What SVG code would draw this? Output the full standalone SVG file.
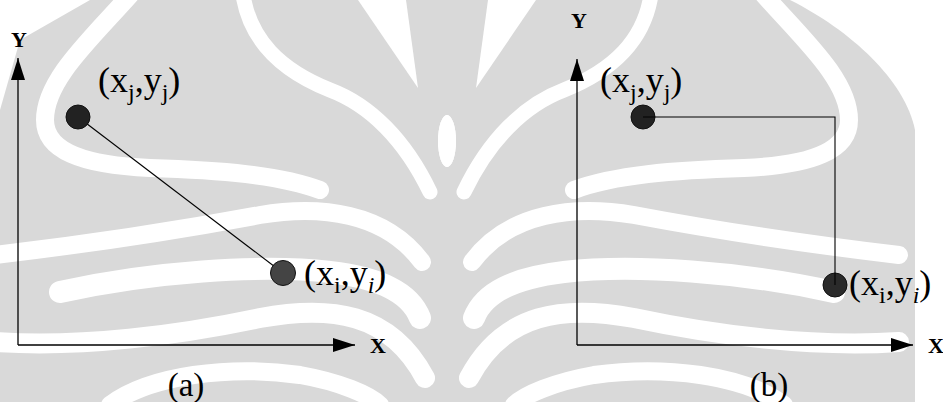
<svg xmlns="http://www.w3.org/2000/svg" width="943" height="402" viewBox="0 0 943 402">
<style>
.wm{fill:none;stroke:#ffffff;stroke-linecap:round}
.axis{stroke:#000;stroke-width:1.3;fill:none}
.link{stroke:#000;stroke-width:1.1;fill:none}
.lbl{font-family:"Liberation Serif","Times New Roman",serif;font-size:36px;fill:#000}
.ax{font-family:"Liberation Serif","Times New Roman",serif;font-size:22px;font-weight:bold;fill:#000}
.cap{font-family:"Liberation Serif","Times New Roman",serif;font-size:33px;fill:#000}
.dot{stroke:#111;stroke-width:1}
</style>
<defs>
<marker id="arr" markerUnits="userSpaceOnUse" markerWidth="24" markerHeight="14" refX="22" refY="7" orient="auto">
<path d="M0,0 L22,7 L0,14 Z" fill="#000"/>
</marker>
<g id="half">
<polygon points="358,0 406,0 418,88" fill="#fff"/>
<ellipse cx="447" cy="141" rx="9" ry="26" fill="#fff"/>
<path class="wm" stroke-width="18" d="M130,-5 C90,40 45,80 45,120 C45,150 80,165 150,168 C220,170 280,175 320,190"/>
<path class="wm" stroke-width="15" d="M243,-5 C250,40 280,70 330,90 C370,105 405,140 430,192"/>
<path class="wm" stroke-width="18" d="M-5,255 C80,245 180,230 260,215 C320,205 385,212 422,262"/>
<path class="wm" stroke-width="22" d="M60,292 C150,272 260,264 330,272 C380,278 410,292 420,318"/>
<path class="wm" stroke-width="20" d="M-5,342 C80,348 180,335 260,318 C330,305 390,312 425,378"/>
<path class="wm" stroke-width="18" d="M110,405 C150,375 230,365 300,375 C340,382 370,395 380,405"/>
</g>
</defs>
<g id="watermark">
<path d="M0,110 L20,40 L90,0 L790,0 C850,30 905,80 915,130 L915,402 L0,402 Z" fill="#d9d9d9"/>
<use href="#half"/>
<use href="#half" transform="translate(894,0) scale(-1,1)"/>
</g>
<g id="connectors">
<path id="ya" class="axis" d="M18,345 L18,58" marker-end="url(#arr)"/>
<path id="xa" class="axis" d="M18,345 L355,345" marker-end="url(#arr)"/>
<path id="yb" class="axis" d="M577,345 L577,59" marker-end="url(#arr)"/>
<path id="xb" class="axis" d="M577,345 L913,345" marker-end="url(#arr)"/>
<path id="la" class="link" d="M78,117 L283,273"/>
</g>
<g id="node-aj"><circle class="dot" cx="78" cy="117" r="12" fill="#222"/></g>
<g id="node-ai"><circle class="dot" cx="283" cy="273" r="12.5" fill="#444"/></g>
<g id="node-bj"><circle class="dot" cx="643" cy="117" r="12" fill="#222"/></g>
<g id="node-bi"><circle class="dot" cx="835" cy="285" r="12" fill="#2a2a2a"/></g>
<g id="connectors-b"><path class="link" d="M643,117 L835,117 L835,285"/></g>
<g id="labels">
<text class="ax" x="19" y="47" text-anchor="middle">Y</text>
<text class="ax" x="370" y="353">X</text>
<text class="ax" x="579" y="28" text-anchor="middle">Y</text>
<text class="ax" x="928" y="353">X</text>
<text class="lbl" x="98" y="92">(x<tspan font-size="24" dy="8">j</tspan><tspan dy="-8">,y</tspan><tspan font-size="24" dy="8">j</tspan><tspan dy="-8">)</tspan></text>
<text class="lbl" x="304" y="285">(x<tspan font-size="24" dy="8">i</tspan><tspan dy="-8">,y</tspan><tspan font-size="24" font-style="italic" dy="8">i</tspan><tspan dy="-8">)</tspan></text>
<text class="lbl" x="600" y="92">(x<tspan font-size="24" dy="8">j</tspan><tspan dy="-8">,y</tspan><tspan font-size="24" dy="8">j</tspan><tspan dy="-8">)</tspan></text>
<text class="lbl" x="849" y="295">(x<tspan font-size="24" dy="8">i</tspan><tspan dy="-8">,y</tspan><tspan font-size="24" font-style="italic" dy="8">i</tspan><tspan dy="-8">)</tspan></text>
<text class="cap" x="186" y="396" text-anchor="middle">(a)</text>
<text class="cap" x="769" y="396" text-anchor="middle">(b)</text>
</g>
</svg>
